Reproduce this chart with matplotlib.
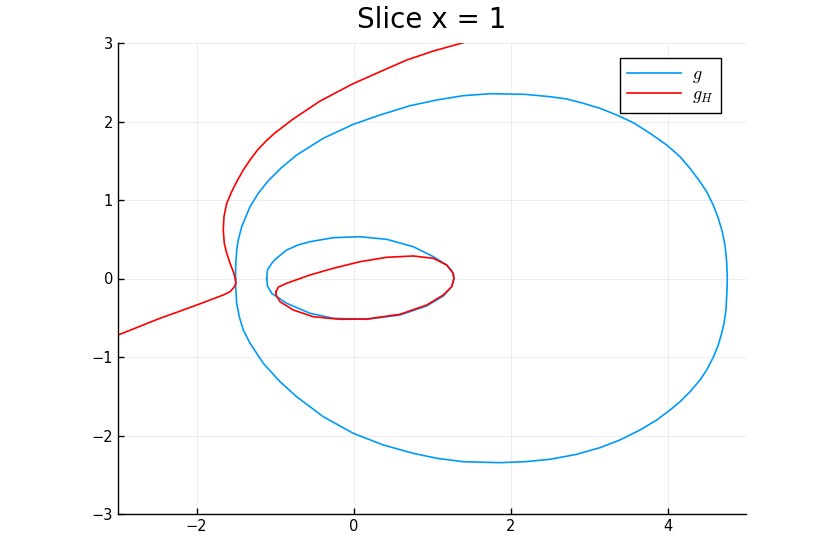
import matplotlib
matplotlib.use("Agg")
import matplotlib.pyplot as plt

# Blue outer curve g (closed)
g_outer_x = [-1.503, -1.501, -1.488, -1.468, -1.424, -1.318, -1.213, -1.09, -0.92, -0.724,
             -0.385, -0.003, 0.338, 0.720, 1.060, 1.399, 1.739, 2.185, 2.503, 2.716, 2.927,
             3.140, 3.353, 3.564, 3.777, 3.990, 4.159, 4.287, 4.414, 4.499, 4.583, 4.647,
             4.698, 4.732, 4.754, 4.762, 4.758, 4.745, 4.720, 4.690, 4.647, 4.583, 4.499,
             4.414, 4.287, 4.159, 4.032, 3.862, 3.650, 3.395, 3.140, 2.843, 2.503, 2.185,
             1.866, 1.399, 1.060, 0.762, 0.380, -0.003, -0.385, -0.724, -0.936, -1.149,
             -1.318, -1.404, -1.455, -1.488, -1.501, -1.503]
g_outer_y = [0.0, 0.150, 0.363, 0.490, 0.660, 0.915, 1.085, 1.24, 1.41, 1.573,
             1.786, 1.964, 2.083, 2.201, 2.274, 2.329, 2.354, 2.346, 2.316, 2.287, 2.232,
             2.168, 2.083, 1.985, 1.850, 1.701, 1.552, 1.404, 1.233, 1.106, 0.936, 0.767,
             0.596, 0.427, 0.214, 0.0, -0.146, -0.401, -0.571, -0.698, -0.847, -1.004, -1.166,
             -1.293, -1.442, -1.570, -1.675, -1.803, -1.930, -2.057, -2.155, -2.240, -2.303, -2.334,
             -2.346, -2.334, -2.290, -2.227, -2.121, -1.972, -1.761, -1.506, -1.315, -1.080,
             -0.825, -0.656, -0.487, -0.316, -0.104, 0.0]

# Blue inner loop g (closed)
g_inner_x = [-1.106, -1.096, -1.042, -0.99, -0.851, -0.707, -0.554, -0.257, 0.083, 0.423,
             0.762, 1.017, 1.187, 1.255, 1.280, 1.251, 1.144, 0.932, 0.592, 0.168, -0.257,
             -0.554, -0.851, -1.042, -1.096, -1.106]
g_inner_y = [0.003, 0.108, 0.194, 0.25, 0.363, 0.427, 0.469, 0.520, 0.532, 0.499,
             0.405, 0.278, 0.172, 0.096, 0.003, -0.104, -0.223, -0.350, -0.465, -0.520, -0.507,
             -0.443, -0.316, -0.189, -0.096, 0.003]

# Red outer branch g_H
gh_outer_x = [-3.0, -2.678, -2.465, -2.252, -1.997, -1.828, -1.659, -1.573, -1.522, -1.497,
              -1.506, -1.531, -1.573, -1.615, -1.646, -1.659, -1.650, -1.615, -1.552, -1.488,
              -1.404, -1.318, -1.223, -1.11, -1.0, -0.771, -0.427, -0.013, 0.338, 0.678, 1.017, 1.399]
gh_outer_y = [-0.720, -0.592, -0.507, -0.431, -0.338, -0.274, -0.210, -0.168, -0.112, -0.061,
              0.003, 0.087, 0.194, 0.321, 0.448, 0.618, 0.787, 0.958, 1.106, 1.233,
              1.382, 1.510, 1.637, 1.755, 1.855, 2.030, 2.260, 2.478, 2.634, 2.783, 2.898, 3.004]

# Red inner loop g_H (closed)
gh_inner_x = [-0.987, -0.955, -0.851, -0.554, -0.257, 0.083, 0.423, 0.762, 1.017, 1.187,
              1.271, 1.280, 1.251, 1.144, 0.932, 0.592, 0.168, -0.172, -0.512, -0.767,
              -0.936, -0.987, -0.987]
gh_inner_y = [-0.168, -0.108, -0.061, 0.045, 0.130, 0.214, 0.270, 0.287, 0.257, 0.172,
              0.066, 0.003, -0.104, -0.210, -0.338, -0.456, -0.516, -0.520, -0.487, -0.401,
              -0.296, -0.210, -0.168]

x_ticks = [-2, 0, 2, 4]
y_ticks = [-3, -2, -1, 0, 1, 2, 3]

plt.rcParams['mathtext.fontset'] = 'cm'
fig = plt.figure(figsize=(8.3, 5.54), dpi=100)
ax = fig.add_axes([118/830, 40/554, 628/830, 471/554])

blue = '#009AFA'
red = '#FF0000'
lw = 1.2
ax.plot(g_outer_x, g_outer_y, color=blue, lw=lw, label='$g$', solid_joinstyle='round')
ax.plot(g_inner_x, g_inner_y, color=blue, lw=lw, solid_joinstyle='round')
ax.plot(gh_outer_x, gh_outer_y, color=red, lw=lw, label='$g_H$', solid_joinstyle='round')
ax.plot(gh_inner_x, gh_inner_y, color=red, lw=lw, solid_joinstyle='round')

ax.set_xlim(-3, 5)
ax.set_ylim(-3, 3)
ax.set_xticks(x_ticks)
ax.set_yticks(y_ticks)
ax.grid(True, color='black', alpha=0.1, lw=0.5)
ax.set_axisbelow(True)
for s in ['top', 'right']:
    ax.spines[s].set_visible(False)
for s in ['left', 'bottom']:
    ax.spines[s].set_linewidth(1.0)
ax.tick_params(direction='in', length=4, width=1, labelsize=10.5)
ax.set_title('Slice x = 1', fontsize=20, pad=11)

leg = ax.legend(loc='upper right', bbox_to_anchor=(0.96, 0.968), borderaxespad=0,
                fancybox=False, edgecolor='black', framealpha=1, fontsize=13,
                handlelength=3.0, borderpad=0.4, labelspacing=0.0, handletextpad=0.6)
leg.get_frame().set_linewidth(1.0)

fig.savefig('out.png', dpi=100)
